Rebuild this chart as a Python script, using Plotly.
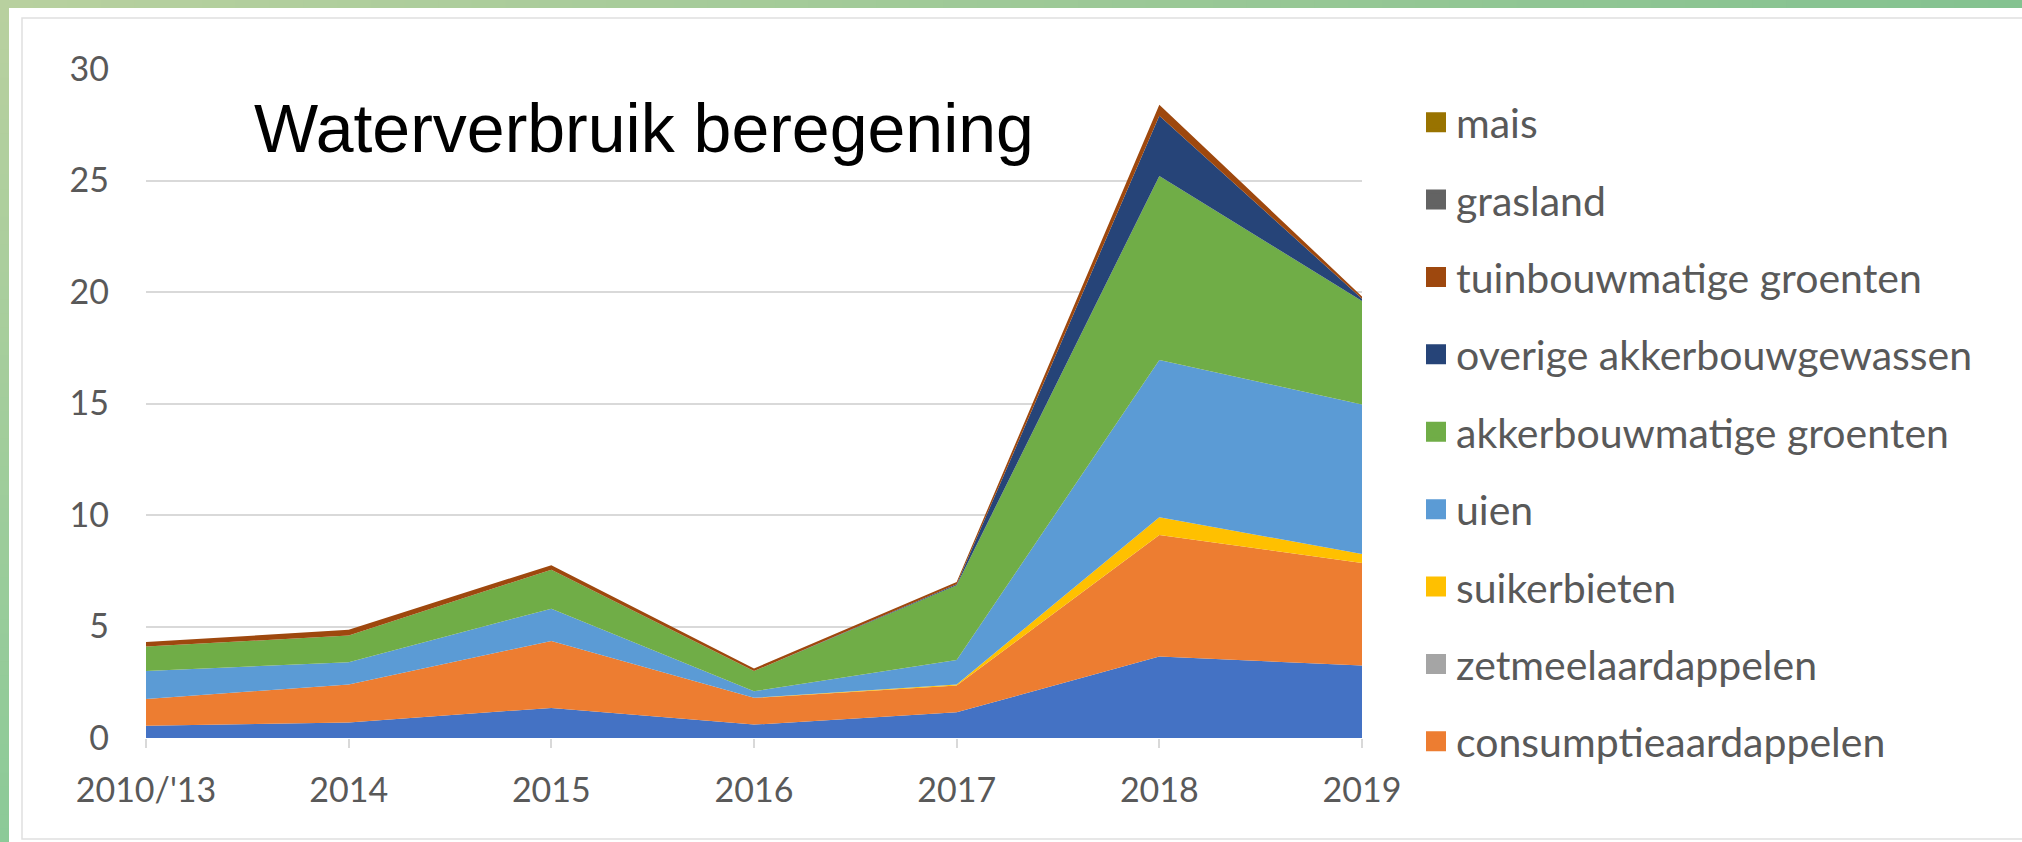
import plotly.graph_objects as go

# Irrigation water use per crop group (stacked), categories on the x axis
years = ["2010/'13", "2014", "2015", "2016", "2017", "2018", "2019"]

pootaardappelen = [0.55, 0.70, 1.35, 0.60, 1.15, 3.65, 3.25]
consumptieaardappelen = [1.20, 1.70, 3.00, 1.20, 1.20, 5.45, 4.60]
zetmeelaardappelen = [0.00, 0.00, 0.00, 0.00, 0.00, 0.00, 0.00]
suikerbieten = [0.00, 0.00, 0.00, 0.00, 0.05, 0.80, 0.40]
uien = [1.25, 1.00, 1.45, 0.30, 1.10, 7.05, 6.70]
akkerbouwmatige_groenten = [1.10, 1.20, 1.75, 0.90, 3.35, 8.25, 4.65]
overige_akkerbouwgewassen = [0.00, 0.00, 0.00, 0.00, 0.05, 2.70, 0.10]
tuinbouwmatige_groenten = [0.20, 0.25, 0.20, 0.12, 0.10, 0.50, 0.10]
grasland = [0.00, 0.00, 0.00, 0.00, 0.00, 0.00, 0.00]
mais = [0.00, 0.00, 0.00, 0.00, 0.00, 0.00, 0.00]

y_ticks = [0, 5, 10, 15, 20, 25, 30]
title_text = "Waterverbruik beregening"

# bottom-to-top stacking order: (name, values, colour, in legend)
series = [
    ("pootaardappelen", pootaardappelen, "#4472C4", False),
    ("consumptieaardappelen", consumptieaardappelen, "#ED7D31", True),
    ("zetmeelaardappelen", zetmeelaardappelen, "#A5A5A5", True),
    ("suikerbieten", suikerbieten, "#FFC000", True),
    ("uien", uien, "#5B9BD5", True),
    ("akkerbouwmatige groenten", akkerbouwmatige_groenten, "#70AD47", True),
    ("overige akkerbouwgewassen", overige_akkerbouwgewassen, "#264478", True),
    ("tuinbouwmatige groenten", tuinbouwmatige_groenten, "#9E480E", True),
    ("grasland", grasland, "#636363", True),
    ("mais", mais, "#997300", True),
]

W, H = 2022, 842
L, R, T, B = 146, 660, 69, 104
PW, PH = W - L - R, H - T - B


def fx(px):
    return (px - L) / PW


def fy(py):
    return 1 - (py - T) / PH


TEXT_GREY = "#595959"
GRID = "#D9D9D9"
LEG_FONT = 41
LEG_STEP = 77.4

fig = go.Figure()

for name, vals, col, _ in series:
    fig.add_trace(go.Scatter(
        x=years, y=vals, name=name, mode="lines",
        stackgroup="one", line=dict(width=0, color=col),
        fillcolor=col, showlegend=False,
    ))

# legend entries (square swatches), top entry first
for name, vals, col, in_legend in reversed(series):
    if not in_legend:
        continue
    fig.add_trace(go.Scatter(
        x=[None], y=[None], name=name, mode="markers", legendgroup=name,
        marker=dict(symbol="square", size=16, color=col,
                    line=dict(width=4, color=col)),
        hoverinfo="skip",
    ))

# frame: green gradient bars along top and left, light grey inner border
shapes = []
n = 60
c0 = (0xB8, 0xD0, 0x9F)
c_top = (0x84, 0xC2, 0x90)
c_left = (0x8C, 0xCA, 0x98)


def mix(a, b, t):
    return "rgb(%d,%d,%d)" % tuple(round(a[i] + (b[i] - a[i]) * t) for i in range(3))


for i in range(n):
    x_a = W * i / n
    x_b = W * (i + 1) / n + 1
    shapes.append(dict(type="rect", xref="paper", yref="paper", layer="above",
                       x0=fx(x_a), x1=fx(x_b), y0=fy(8), y1=fy(0),
                       line=dict(width=0), fillcolor=mix(c0, c_top, i / (n - 1))))
for i in range(n):
    y_a = 8 + (H - 8) * i / n
    y_b = 8 + (H - 8) * (i + 1) / n + 1
    shapes.append(dict(type="rect", xref="paper", yref="paper", layer="above",
                       x0=fx(0), x1=fx(9), y0=fy(y_b), y1=fy(y_a),
                       line=dict(width=0), fillcolor=mix(c0, c_left, i / (n - 1))))
shapes.append(dict(type="rect", xref="paper", yref="paper", layer="below",
                   x0=fx(22), x1=fx(W + 20), y0=fy(839), y1=fy(18),
                   line=dict(width=1.5, color="#E0E0E0"), fillcolor="rgba(0,0,0,0)"))

fig.update_layout(
    width=W, height=H,
    margin=dict(l=L, r=R, t=T, b=B, pad=0),
    paper_bgcolor="white", plot_bgcolor="white",
    font=dict(family="Lato, Carlito, Calibri, sans-serif", color=TEXT_GREY),
    shapes=shapes,
    showlegend=True,
    legend=dict(
        x=fx(1416), xanchor="left", y=fy(89), yanchor="top",
        font=dict(size=LEG_FONT, color=TEXT_GREY),
        traceorder="grouped", tracegroupgap=LEG_STEP - (LEG_FONT * 1.3 + 3),
        bgcolor="rgba(0,0,0,0)", borderwidth=0, itemwidth=30,
        maxheight=820,
    ),
    annotations=[dict(
        text=title_text, xref="paper", yref="paper",
        x=fx(252), y=fy(128), xanchor="left", yanchor="middle",
        showarrow=False,
        font=dict(family="Liberation Sans, Arial, sans-serif", size=68, color="black"),
    )],
)

fig.update_xaxes(
    type="category", range=[0, 6], showgrid=False, showline=False, zeroline=False,
    ticks="outside", ticklen=9, tickwidth=1.5, tickcolor=GRID,
    tickfont=dict(size=34, color=TEXT_GREY), ticklabelstandoff=13,
)
fig.update_yaxes(
    range=[0, 30], tickvals=y_ticks, showgrid=True, gridcolor=GRID, gridwidth=1.6,
    zeroline=False, showline=False, ticks="",
    tickfont=dict(size=34, color=TEXT_GREY), ticklabelstandoff=36,
)

fig.write_html("out.html")
